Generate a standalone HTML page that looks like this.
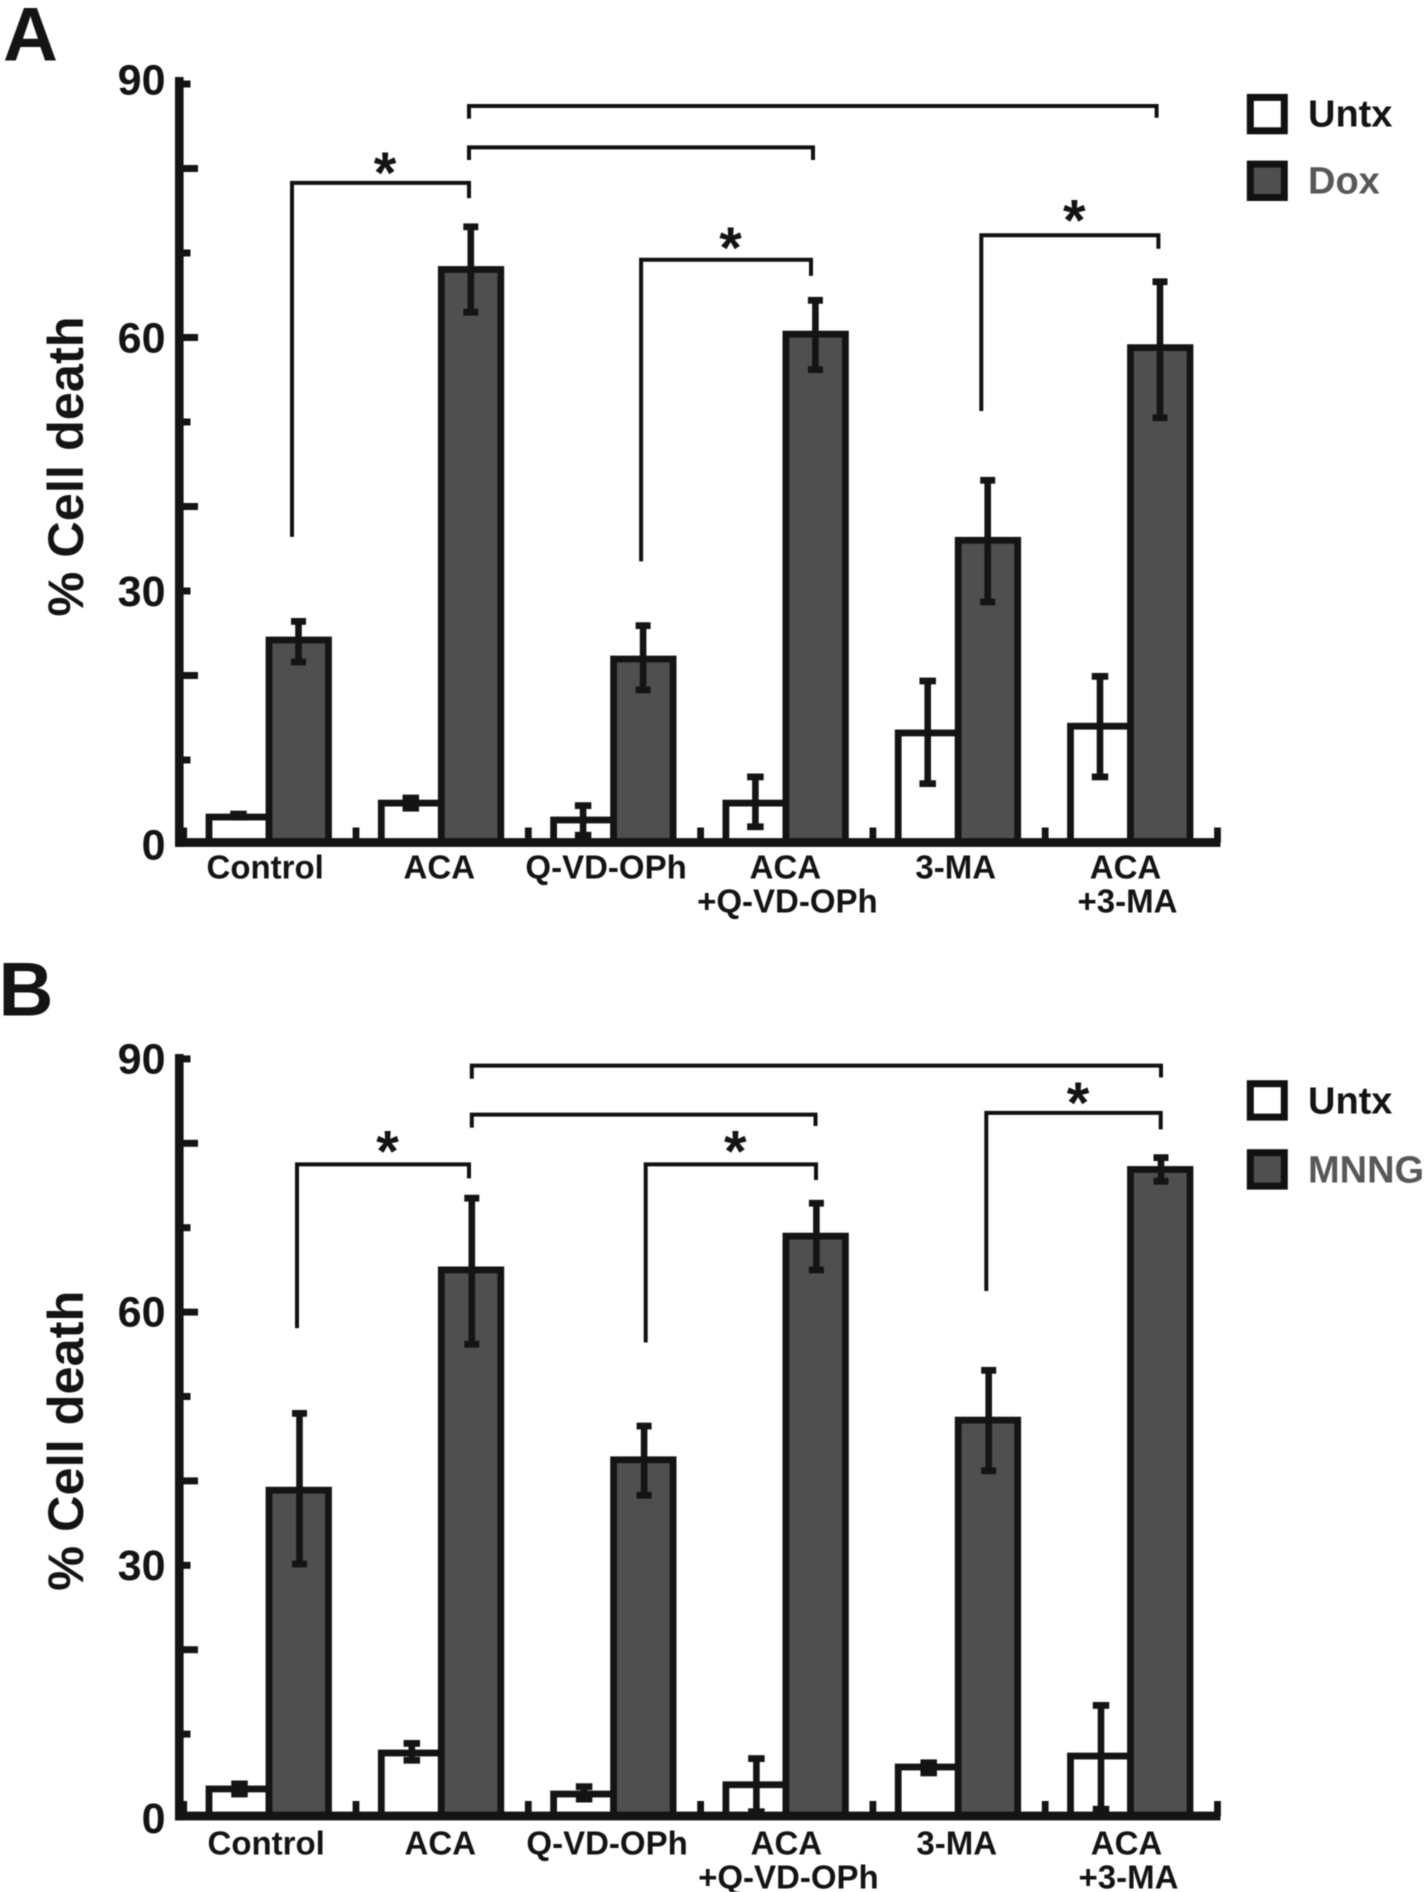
<!DOCTYPE html>
<html lang="en">
<head>
<meta charset="utf-8">
<title>Percent cell death bar charts</title>
<style>
  html, body { margin: 0; padding: 0; background: #ffffff; }
  svg { display: block; filter: blur(0.5px); }
  text { font-family: "Liberation Sans", Arial, sans-serif; font-weight: bold; fill: #141414; }
</style>
</head>
<body>
<svg id="figure" xmlns="http://www.w3.org/2000/svg" width="1427" height="1892" viewBox="0 0 1427 1892"></svg>
<script>
// ---- shared chart data ----
const categoryLines = [["Control"], ["ACA"], ["Q-VD-OPh"], ["ACA", "+Q-VD-OPh"], ["3-MA"], ["ACA", "+3-MA"]];
const yTickValues = [0, 10, 20, 30, 40, 50, 60, 70, 80, 90];
const yTickLabels = [0, 30, 60, 90];

// ---- panel A data (% cell death) ----
const untxA   = [3.25, 4.9, 2.9, 4.9, 13.2, 14.0];
const untxHiA = [3.6, 5.5, 4.6, 8.0, 19.35, 19.9];
const untxLoA = [3.25, 4.3, 1.1, 2.1, 7.2, 8.0];
const doxA    = [24.2, 68.05, 21.95, 60.4, 36.0, 58.8];
const doxHiA  = [26.4, 73.1, 25.9, 64.4, 43.1, 66.6];
const doxLoA  = [21.6, 63.0, 18.3, 56.2, 28.7, 50.5];

// ---- panel B data (% cell death) ----
const untxB   = [3.5, 7.76, 2.9, 4.0, 6.1, 7.4];
const untxHiB = [4.1, 8.9, 3.77, 7.1, 6.6, 13.4];
const untxLoB = [2.9, 6.9, 2.3, 0.8, 5.4, 1.1];
const mnngB   = [38.9, 65.0, 42.5, 69.0, 47.2, 76.9];
const mnngHiB = [48.0, 73.5, 46.5, 72.9, 53.1, 78.3];
const mnngLoB = [30.15, 56.2, 38.3, 65.0, 41.2, 75.5];

// ---- significance brackets: [from group, to group, level, left end, right end, left nudge, right nudge, starred] ----
const bracketsA = [
  [1, 5, 87.4, 85.9, 86.0, -1.8, -3.4, false],
  [1, 3, 82.5, 81.0, 81.0, -1.8, -2.4, false],
  [0, 1, 78.3, 36.4, 76.5, -6.5, -1.8, true],
  [2, 3, 69.2, 33.5, 67.3, -2.0, -4.4, true],
  [4, 5, 72.1, 51.3, 70.5, -6.4, -1.6, true]
];
const bracketsB = [
  [1, 5, 89.2, 87.65, 87.8, 1.0, 1.0, false],
  [1, 3, 83.4, 81.85, 82.05, 1.0, 0.1, false],
  [0, 1, 77.5, 58.1, 75.85, -1.5, -1.8, true],
  [2, 3, 77.5, 56.4, 75.65, 2.6, 0.6, true],
  [4, 5, 83.6, 62.5, 81.65, -1.4, 0.7, true]
];

// ---- layout (not data) ----
const INK = "#141414";
const FILL = "#4f4f4f";
const svg = document.getElementById("figure");
const NS = "http://www.w3.org/2000/svg";

const panelA = {
  id: "a", letter: "A", letterX: 3, letterY: 60.5,
  zeroY: 844.5, unit: 8.45, baseY: 842.5, axisTop: 77, errDx: 0,
  titleY: 466.5, labelY: 878.5, labelDx: 0,
  labelNudge: [[-3.8], [-2], [-7.5], [-0.5, 1.5], [-2.5], [-5, -3]],
  tickLabelDy: function (v) { return v === 90 ? 10.5 : 15.2; },
  legendY: [94, 160.7], legendBase: [126.7, 193.3],
  treatmentName: "Dox", untx: untxA, untxHi: untxHiA, untxLo: untxLoA,
  drug: doxA, drugHi: doxHiA, drugLo: doxLoA, brackets: bracketsA,
  starGap: [0, 0, 23, 25, 28]
};
const panelB = {
  id: "b", letter: "B", letterX: -1.5, letterY: 1015.5,
  zeroY: 1818.5, unit: 8.44, baseY: 1816, axisTop: 1054, errDx: 1,
  titleY: 1440.8, labelY: 1854.5, labelDx: 1,
  labelNudge: [[-3.8], [-2], [-7.5], [-0.5, 1.5], [-2.5], [-5, -3]],
  tickLabelDy: function () { return 14.5; },
  legendY: [1080.3, 1149.3], legendBase: [1113.3, 1182.3],
  treatmentName: "MNNG", untx: untxB, untxHi: untxHiB, untxLo: untxLoB,
  drug: mnngB, drugHi: mnngHiB, drugLo: mnngLoB, brackets: bracketsB,
  starGap: [0, 0, 26, 26, 23]
};

function mk(tag, parent, attrs, content) {
  const node = document.createElementNS(NS, tag);
  Object.keys(attrs).forEach(function (k) { node.setAttribute(k, attrs[k]); });
  if (content !== undefined) { node.textContent = content; }
  parent.appendChild(node);
  return node;
}

const GROUP_X0 = 209, GROUP_STEP = 172.3, BAR_W = 60, DRUG_W = 59.5;
function groupX(i) { return GROUP_X0 + GROUP_STEP * i; }
function untxCenter(i) { return groupX(i) + 29.5; }
function drugCenter(i) { return groupX(i) + 89.5; }

function drawPanel(p) {
  const y = function (v) { return p.zeroY - v * p.unit; };
  const g = mk("g", svg, {});
  
  

  const letter = mk("text", g, { x: p.letterX, y: p.letterY, "font-size": 76 }, p.letter);
  
  

  const title = mk("text", g, {
    x: 0, y: 0, "font-size": 50.5, "text-anchor": "middle",
    transform: "translate(83 " + p.titleY + ") rotate(-90)"
  }, "% Cell death");
  
  

  // bars
  categoryLines.forEach(function (lines, i) {
    const ub = mk("rect", g, {
      x: groupX(i), y: y(p.untx[i]), width: BAR_W, height: Math.max(0, p.baseY - y(p.untx[i])),
      fill: "#ffffff", stroke: INK, "stroke-width": 6.8
    });
    
    

    const db = mk("rect", g, {
      x: groupX(i) + BAR_W, y: y(p.drug[i]), width: DRUG_W, height: Math.max(0, p.baseY - y(p.drug[i])),
      fill: FILL, stroke: INK, "stroke-width": 6.8
    });
    
    
  });

  // error bars
  function errorBar(cx, hi, lo, capW, name) {
    const e = mk("g", g, { fill: INK });
    
    
    mk("rect", e, { x: cx - 3.3, y: y(hi), width: 6.6, height: Math.max(0.1, y(lo) - y(hi)) });
    mk("rect", e, { x: cx - capW / 2, y: y(hi) - 3.4, width: capW, height: 6.8 });
    mk("rect", e, { x: cx - capW / 2, y: y(lo) - 3.4, width: capW, height: 6.8 });
  }
  categoryLines.forEach(function (lines, i) {
    errorBar(untxCenter(i) + p.errDx, p.untxHi[i], p.untxLo[i], 16.5, 'error-bar-untx-' + p.id + '-' + i);
    errorBar(drugCenter(i) + p.errDx, p.drugHi[i], p.drugLo[i], 15, 'error-bar-treated-' + p.id + '-' + i);
  });

  // y axis line, baseline
  const yAxis = mk("rect", g, { x: 175, y: p.axisTop, width: 8.6, height: p.baseY + 4.4 - p.axisTop, fill: INK });
  
  

  const xAxis = mk("rect", g, { x: 175, y: p.baseY - 4.4, width: 1045.5, height: 8.8, fill: INK });
  
  

  // y ticks: even tens are long, odd multiples of 10 are short, as drawn in the source
  yTickValues.forEach(function (v, idx) {
    if (v === 0) { return; }
    const long = idx % 2 === 0;
    const t = mk("rect", g, { x: 183, y: y(v) - 3.5, width: long ? 15 : 7.5, height: 7, fill: INK });
    
    
  });
  yTickLabels.forEach(function (v) {
    const t = mk("text", g, { x: 165.5, y: y(v) + p.tickLabelDy(v), "font-size": 43, "text-anchor": "end" }, String(v));
    
    
  });

  // x ticks between groups
  for (let i = 0; i <= categoryLines.length; i++) {
    const t = mk("rect", g, { x: 180.3 + GROUP_STEP * i, y: p.baseY - 15, width: 6.8, height: 15, fill: INK });
    
    
  }

  // category labels
  categoryLines.forEach(function (lines, i) {
    lines.forEach(function (line, j) {
      const t = mk("text", g, {
        x: groupX(i) + BAR_W + p.labelNudge[i][j] + p.labelDx,
        y: p.labelY + j * 34, "font-size": 33, "text-anchor": "middle"
      }, line);
      
      
    });
  });

  // brackets
  p.brackets.forEach(function (b, k) {
    const lx = drugCenter(b[0]) + b[5];
    const rx = drugCenter(b[1]) + b[6];
    const br = mk("path", g, {
      d: "M" + lx + " " + y(b[3]) + "V" + y(b[2]) + "H" + rx + "V" + y(b[4]),
      fill: "none", stroke: "#111111", "stroke-width": 4
    });
    
    
    if (b[7]) {
      const star = mk("text", g, {
        x: (lx + rx) / 2 + 4.5, y: y(b[2]) - p.starGap[k] + 33,
        "font-size": 58, "text-anchor": "middle"
      }, "*");
      
      
    }
  });

  // legend
  const names = ["Untx", p.treatmentName];
  const fills = ["#ffffff", FILL];
  const colors = ["#141414", "#585858"];
  names.forEach(function (name, k) {
    const entry = mk("g", g, {});
    
    
    const sw = mk("rect", entry, {
      x: 1250.3, y: p.legendY[k] + 3.4, width: 34, height: 33.4,
      fill: fills[k], stroke: "#111111", "stroke-width": 7
    });
    
    
    const tx = mk("text", entry, { x: 1308, y: p.legendBase[k], "font-size": 38 }, name);
    tx.style.fill = colors[k];
    
    
  });
}

drawPanel(panelA);
drawPanel(panelB);
</script>
</body>
</html>
